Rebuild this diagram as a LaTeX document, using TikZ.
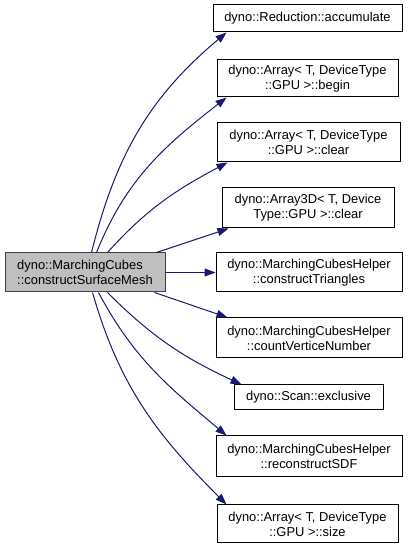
\documentclass[tikz,border=0pt]{standalone}
\usepackage{fontspec}
\setmainfont{Liberation Sans}
\usetikzlibrary{arrows.meta}
\definecolor{edgeblue}{HTML}{191970}
\definecolor{nodegray}{HTML}{BFBFBF}
\definecolor{bordergray}{HTML}{404040}
\begin{document}
\begin{tikzpicture}[x=1pt,y=1pt,
  box/.style={draw=black,line width=1pt,fill=white,inner sep=0pt,align=center,
    font=\fontsize{12.9}{15}\selectfont},
  mainbox/.style={box,draw=bordergray,fill=nodegray,align=left},
  edge/.style={draw=edgeblue,line width=1pt,
    -{Triangle[length=11pt,width=8pt,fill=edgeblue]}}]
\useasboundingbox (0,0) rectangle (409,547);
% main node
\node[mainbox,minimum width=160pt,minimum height=39pt] (L) at (85,274.5)
  {dyno::MarchingCubes\\::constructSurfaceMesh};
% targets
\node[box,minimum width=189pt,minimum height=27pt] (A) at (307.5,528.5)
  {dyno::Reduction::accumulate};
\node[box,minimum width=181pt,minimum height=37pt] (B) at (307.5,468.5)
  {dyno::Array< T, DeviceType\\::GPU >::begin};
\node[box,minimum width=183pt,minimum height=39pt] (C) at (308.5,404.5)
  {dyno::Array< T, DeviceType\\::GPU >::clear};
\node[box,minimum width=172pt,minimum height=40pt] (D) at (308,339)
  {dyno::Array3D< T, Device\\Type::GPU >::clear};
\node[box,minimum width=186pt,minimum height=39pt] (E) at (309,274.5)
  {dyno::MarchingCubesHelper\\::constructTriangles};
\node[box,minimum width=186pt,minimum height=40pt] (F) at (309,209)
  {dyno::MarchingCubesHelper\\::countVerticeNumber};
\node[box,minimum width=149pt,minimum height=25pt] (G) at (308.5,149.5)
  {dyno::Scan::exclusive};
\node[box,minimum width=186pt,minimum height=41pt] (H) at (309,90.5)
  {dyno::MarchingCubesHelper\\::reconstructSDF};
\node[box,minimum width=181pt,minimum height=38pt] (I) at (307.5,23)
  {dyno::Array< T, DeviceType\\::GPU >::size};
% edges
\draw[edge] ([xshift=87pt]L.north west) to[out=76,in=220] ([xshift=14pt]A.south west);
\draw[edge] ([xshift=92pt]L.north west) to[out=68,in=218] ([xshift=10pt]B.south west);
\draw[edge] ([xshift=103pt]L.north west) to[out=48,in=208] ([xshift=11pt]C.south west);
\draw[edge] ([xshift=152pt]L.north west) -- ([xshift=7pt]D.south west);
\draw[edge] (L.east) -- (E.west);
\draw[edge] ([xshift=150pt]L.south west) -- ([xshift=12pt]F.north west);
\draw[edge] ([xshift=103pt]L.south west) to[out=-45,in=155] ([xshift=8pt]G.north west);
\draw[edge] ([xshift=94pt]L.south west) to[out=-62,in=140] ([xshift=11pt]H.north west);
\draw[edge] ([xshift=88pt]L.south west) to[out=-74,in=135] ([xshift=10pt]I.north west);
\end{tikzpicture}
\end{document}
